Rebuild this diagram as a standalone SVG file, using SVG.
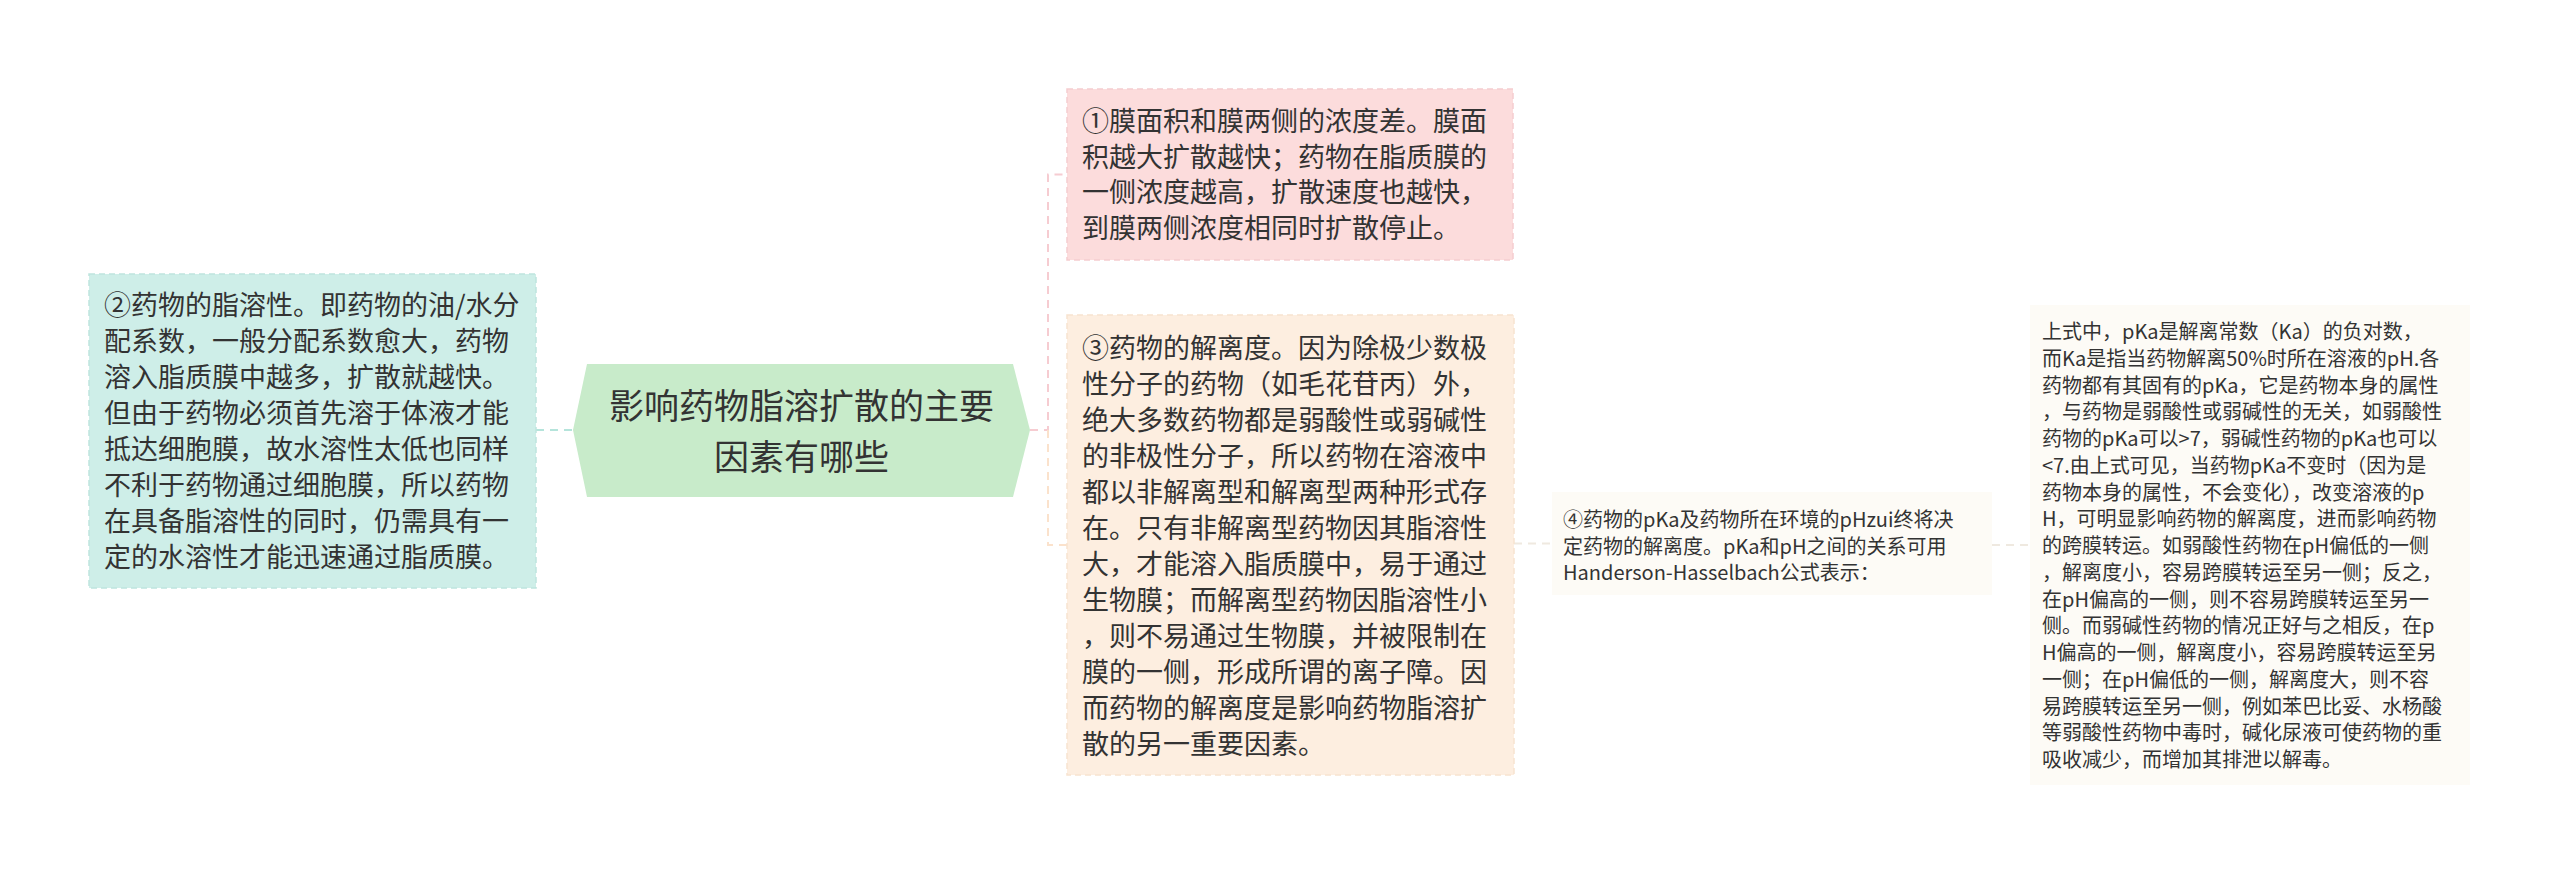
<svg xmlns="http://www.w3.org/2000/svg" width="2560" height="873" viewBox="0 0 2560 873">
<style>
text{font-family:"Noto Sans CJK SC","Noto Sans",sans-serif;fill:#333333;}
.t27{font-size:27px;}
.t20{font-size:20px;}
.t35{font-size:35px;}
.conn{fill:none;stroke-width:2;stroke-dasharray:8 6;}
.box{stroke-width:1.5;stroke-dasharray:6 4;}
</style>
<rect width="2560" height="873" fill="#ffffff"/>
<g id="connectors">
<path class="conn" d="M536,430 H573" stroke="#b5e4db"/>
<path class="conn" d="M1030,430 H1048 V174.5 H1067" stroke="#f6ccd1"/>
<path class="conn" d="M1048,430 V545 H1067" stroke="#fbe2cc"/>
<path class="conn" d="M1514,543.5 H1552" stroke="#efe9e0"/>
<path class="conn" d="M1992,545 H2030" stroke="#efe9e0"/>
</g>
<g id="center">
<polygon points="573,430 587,364 1013,364 1030,430 1013,497 587,497" fill="#c8ebca"/>
<text class="t35" x="801.5" y="419" text-anchor="middle">影响药物脂溶扩散的主要</text>
<text class="t35" x="801.5" y="470" text-anchor="middle">因素有哪些</text>
</g>
<g id="node2">
<rect class="box" x="89" y="274" width="447" height="314" fill="#ceeee8" stroke="#bfe5de"/>
<text class="t27" x="104" y="315">
<tspan x="104" dy="0">②药物的脂溶性。即药物的油/水分</tspan>
<tspan x="104" dy="36">配系数，一般分配系数愈大，药物</tspan>
<tspan x="104" dy="36">溶入脂质膜中越多，扩散就越快。</tspan>
<tspan x="104" dy="36">但由于药物必须首先溶于体液才能</tspan>
<tspan x="104" dy="36">抵达细胞膜，故水溶性太低也同样</tspan>
<tspan x="104" dy="36">不利于药物通过细胞膜，所以药物</tspan>
<tspan x="104" dy="36">在具备脂溶性的同时，仍需具有一</tspan>
<tspan x="104" dy="36">定的水溶性才能迅速通过脂质膜。</tspan>
</text>
</g>
<g id="node1">
<rect class="box" x="1067" y="89" width="446" height="171" fill="#fcdcdc" stroke="#f5cdd0"/>
<text class="t27" x="1082" y="131">
<tspan x="1082" dy="0">①膜面积和膜两侧的浓度差。膜面</tspan>
<tspan x="1082" dy="35.5">积越大扩散越快；药物在脂质膜的</tspan>
<tspan x="1082" dy="35.5">一侧浓度越高，扩散速度也越快，</tspan>
<tspan x="1082" dy="35.5">到膜两侧浓度相同时扩散停止。</tspan>
</text>
</g>
<g id="node3">
<rect class="box" x="1067" y="315" width="447" height="460" fill="#fdeee0" stroke="#f8e3d0"/>
<text class="t27" x="1082" y="358">
<tspan x="1082" dy="0">③药物的解离度。因为除极少数极</tspan>
<tspan x="1082" dy="36">性分子的药物（如毛花苷丙）外，</tspan>
<tspan x="1082" dy="36">绝大多数药物都是弱酸性或弱碱性</tspan>
<tspan x="1082" dy="36">的非极性分子，所以药物在溶液中</tspan>
<tspan x="1082" dy="36">都以非解离型和解离型两种形式存</tspan>
<tspan x="1082" dy="36">在。只有非解离型药物因其脂溶性</tspan>
<tspan x="1082" dy="36">大，才能溶入脂质膜中，易于通过</tspan>
<tspan x="1082" dy="36">生物膜；而解离型药物因脂溶性小</tspan>
<tspan x="1082" dy="36">，则不易通过生物膜，并被限制在</tspan>
<tspan x="1082" dy="36">膜的一侧，形成所谓的离子障。因</tspan>
<tspan x="1082" dy="36">而药物的解离度是影响药物脂溶扩</tspan>
<tspan x="1082" dy="36">散的另一重要因素。</tspan>
</text>
</g>
<g id="node4">
<rect x="1552" y="492" width="440" height="103" fill="#fdfbf6"/>
<text class="t20" x="1563" y="527">
<tspan x="1563" dy="0">④药物的pKa及药物所在环境的pHzui终将决</tspan>
<tspan x="1563" dy="26.5">定药物的解离度。pKa和pH之间的关系可用</tspan>
<tspan x="1563" dy="26.5">Handerson-Hasselbach公式表示：</tspan>
</text>
</g>
<g id="node5">
<rect x="2030" y="305" width="440" height="480" fill="#fdfbf6"/>
<text class="t20" x="2042" y="339">
<tspan x="2042" dy="0">上式中，pKa是解离常数（Ka）的负对数，</tspan>
<tspan x="2042" dy="26.75">而Ka是指当药物解离50%时所在溶液的pH.各</tspan>
<tspan x="2042" dy="26.75">药物都有其固有的pKa，它是药物本身的属性</tspan>
<tspan x="2042" dy="26.75">，与药物是弱酸性或弱碱性的无关，如弱酸性</tspan>
<tspan x="2042" dy="26.75">药物的pKa可以&gt;7，弱碱性药物的pKa也可以</tspan>
<tspan x="2042" dy="26.75">&lt;7.由上式可见，当药物pKa不变时（因为是</tspan>
<tspan x="2042" dy="26.75">药物本身的属性，不会变化），改变溶液的p</tspan>
<tspan x="2042" dy="26.75">H，可明显影响药物的解离度，进而影响药物</tspan>
<tspan x="2042" dy="26.75">的跨膜转运。如弱酸性药物在pH偏低的一侧</tspan>
<tspan x="2042" dy="26.75">，解离度小，容易跨膜转运至另一侧；反之，</tspan>
<tspan x="2042" dy="26.75">在pH偏高的一侧，则不容易跨膜转运至另一</tspan>
<tspan x="2042" dy="26.75">侧。而弱碱性药物的情况正好与之相反，在p</tspan>
<tspan x="2042" dy="26.75">H偏高的一侧，解离度小，容易跨膜转运至另</tspan>
<tspan x="2042" dy="26.75">一侧；在pH偏低的一侧，解离度大，则不容</tspan>
<tspan x="2042" dy="26.75">易跨膜转运至另一侧，例如苯巴比妥、水杨酸</tspan>
<tspan x="2042" dy="26.75">等弱酸性药物中毒时，碱化尿液可使药物的重</tspan>
<tspan x="2042" dy="26.75">吸收减少，而增加其排泄以解毒。</tspan>
</text>
</g>
</svg>
